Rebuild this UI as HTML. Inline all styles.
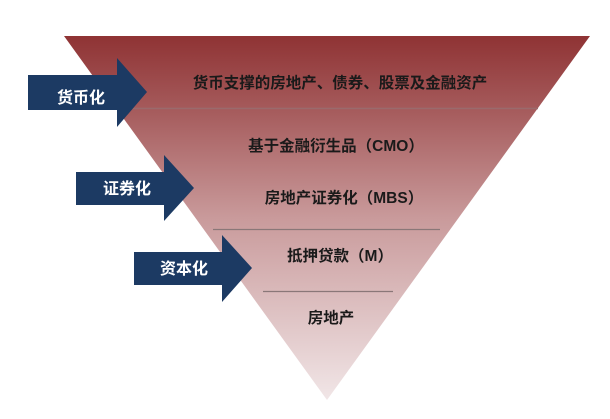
<!DOCTYPE html>
<html><head><meta charset="utf-8"><style>
html,body{margin:0;padding:0;background:#fff;}
svg{display:block;}
text{font-family:"Liberation Sans","Noto Sans CJK SC",sans-serif;font-weight:bold;}
</style></head><body>
<svg width="610" height="419" viewBox="0 0 610 419" xmlns="http://www.w3.org/2000/svg">
<defs>
<linearGradient id="g" x1="0" y1="36" x2="0" y2="400" gradientUnits="userSpaceOnUse">
<stop offset="0" stop-color="#8f3334"/>
<stop offset="0.2" stop-color="#a55a5b"/>
<stop offset="0.5" stop-color="#c99a9b"/>
<stop offset="1" stop-color="#f1e6e7"/>
</linearGradient>
</defs>
<polygon points="64,36 590,36 327,400" fill="url(#g)"/>
<line x1="116" y1="108.5" x2="538" y2="108.5" stroke="#9a6a6c" stroke-width="1.5"/>
<line x1="213" y1="229.5" x2="440" y2="229.5" stroke="#8a7778" stroke-width="1.2"/>
<line x1="263" y1="291.5" x2="393" y2="291.5" stroke="#8a7778" stroke-width="1.2"/>
<g fill="#1c3a63">
<polygon points="28,75 117,75 117,58 147,92 117,127 117,110 28,110"/>
<polygon points="76,172 164,172 164,155 194,188 164,221 164,205 76,205"/>
<polygon points="134,252 222,252 222,235 252,268 222,302 222,285 134,285"/>
</g>
<g fill="#fff" font-size="16" text-anchor="middle">
<text x="81" y="103">货币化</text>
<text x="127" y="194">证券化</text>
<text x="184" y="274">资本化</text>
</g>
<g fill="#1a1a1a" font-size="15.5" text-anchor="middle">
<text x="340" y="88">货币支撑的房地产、债券、股票及金融资产</text>
<text x="336" y="151">基于金融衍生品（CMO）</text>
<text x="344" y="203">房地产证券化（MBS）</text>
<text x="340" y="261">抵押贷款（M）</text>
<text x="331" y="323">房地产</text>
</g>
</svg>
</body></html>
